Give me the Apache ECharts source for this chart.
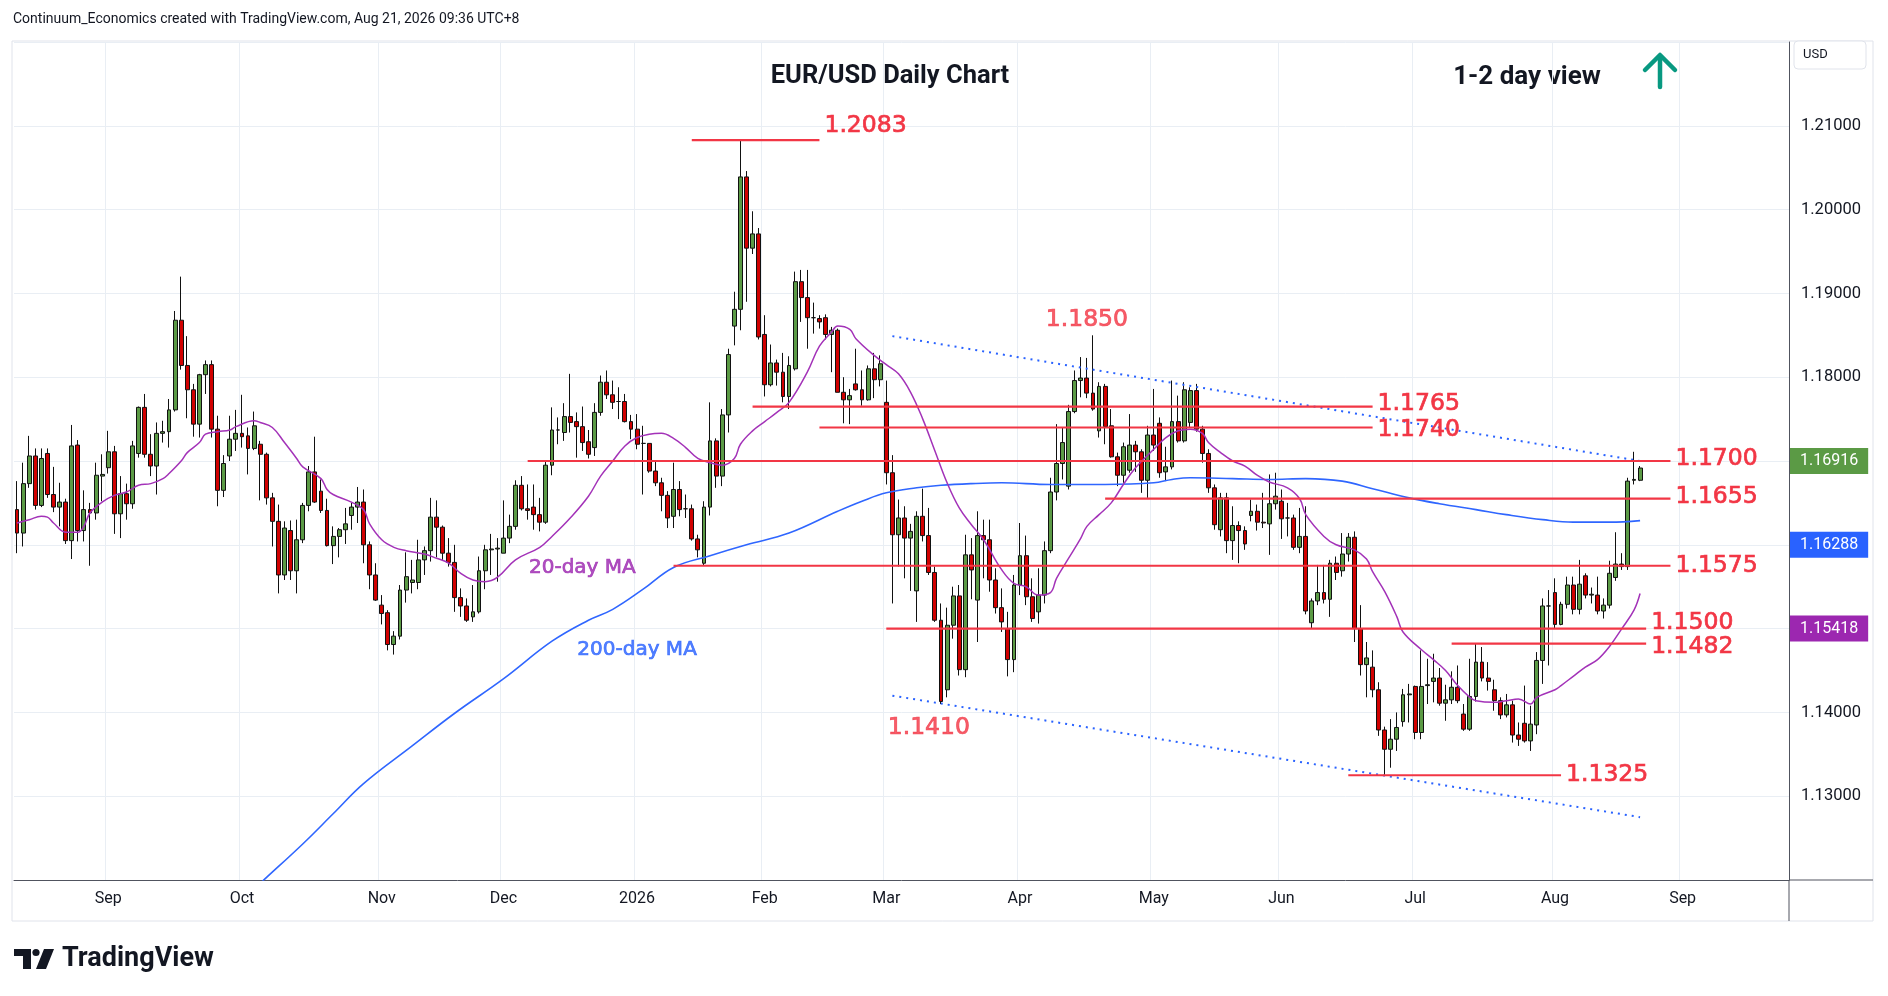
<!DOCTYPE html>
<html lang="en">
<head>
<meta charset="UTF-8">
<title>EUR/USD Daily Chart</title>
<script src="https://cdn.jsdelivr.net/npm/echarts@6/dist/echarts.min.js"></script>
<style>
  html, body { margin: 0; padding: 0; background: #fff; }
  #main { width: 1888px; height: 996px; }
</style>
</head>
<body>
<div id="main"></div>
<script>
// daily bars: date, open, high, low, close
var candles = [
  ['2025-08-11',1.1642,1.1676,1.1590,1.1614],['2025-08-12',1.1614,1.1698,1.1598,1.1673],
  ['2025-08-13',1.1673,1.1730,1.1668,1.1706],['2025-08-14',1.1706,1.1715,1.1642,1.1647],
  ['2025-08-15',1.1647,1.1715,1.1645,1.1703],['2025-08-18',1.1709,1.1715,1.1656,1.1660],
  ['2025-08-19',1.1660,1.1693,1.1639,1.1645],['2025-08-20',1.1645,1.1674,1.1622,1.1651],
  ['2025-08-21',1.1651,1.1655,1.1601,1.1605],['2025-08-22',1.1605,1.1743,1.1583,1.1718],
  ['2025-08-25',1.1719,1.1725,1.1604,1.1617],['2025-08-26',1.1617,1.1665,1.1604,1.1642],
  ['2025-08-27',1.1642,1.1650,1.1575,1.1638],['2025-08-28',1.1638,1.1698,1.1630,1.1683],
  ['2025-08-29',1.1682,1.1708,1.1652,1.1684],
  ['2025-09-01',1.1692,1.1736,1.1685,1.1711],['2025-09-02',1.1711,1.1718,1.1613,1.1637],
  ['2025-09-03',1.1637,1.1682,1.1608,1.1661],['2025-09-04',1.1661,1.1673,1.1630,1.1649],
  ['2025-09-05',1.1649,1.1724,1.1643,1.1718],['2025-09-08',1.1709,1.1765,1.1704,1.1764],
  ['2025-09-09',1.1764,1.1780,1.1704,1.1708],['2025-09-10',1.1708,1.1732,1.1682,1.1694],
  ['2025-09-11',1.1694,1.1746,1.1660,1.1733],['2025-09-12',1.1733,1.1748,1.1722,1.1735],
  ['2025-09-15',1.1735,1.1774,1.1716,1.1761],['2025-09-16',1.1761,1.1879,1.1759,1.1868],
  ['2025-09-17',1.1868,1.1920,1.1809,1.1814],['2025-09-18',1.1814,1.1849,1.1751,1.1785],
  ['2025-09-19',1.1785,1.1792,1.1729,1.1744],['2025-09-22',1.1744,1.1804,1.1728,1.1803],
  ['2025-09-23',1.1803,1.1820,1.1780,1.1815],['2025-09-24',1.1815,1.1820,1.1728,1.1738],
  ['2025-09-25',1.1738,1.1754,1.1646,1.1665],['2025-09-26',1.1665,1.1707,1.1657,1.1697],
  ['2025-09-29',1.1706,1.1754,1.1700,1.1726],['2025-09-30',1.1726,1.1761,1.1712,1.1733],
  ['2025-10-01',1.1733,1.1779,1.1716,1.1729],['2025-10-02',1.1730,1.1740,1.1684,1.1715],
  ['2025-10-03',1.1715,1.1759,1.1713,1.1742],['2025-10-06',1.1720,1.1724,1.1653,1.1708],
  ['2025-10-07',1.1708,1.1710,1.1648,1.1656],['2025-10-08',1.1656,1.1662,1.1598,1.1628],
  ['2025-10-09',1.1628,1.1648,1.1542,1.1564],['2025-10-10',1.1564,1.1628,1.1558,1.1620],
  ['2025-10-13',1.1617,1.1629,1.1558,1.1569],['2025-10-14',1.1569,1.1630,1.1542,1.1606],
  ['2025-10-15',1.1606,1.1650,1.1602,1.1647],['2025-10-16',1.1647,1.1694,1.1640,1.1687],
  ['2025-10-17',1.1687,1.1729,1.1650,1.1651],['2025-10-20',1.1664,1.1678,1.1638,1.1641],
  ['2025-10-21',1.1641,1.1655,1.1598,1.1599],['2025-10-22',1.1599,1.1622,1.1577,1.1610],
  ['2025-10-23',1.1610,1.1620,1.1585,1.1618],['2025-10-24',1.1618,1.1644,1.1601,1.1625],
  ['2025-10-27',1.1635,1.1650,1.1618,1.1645],['2025-10-28',1.1645,1.1669,1.1626,1.1651],
  ['2025-10-29',1.1651,1.1666,1.1578,1.1600],['2025-10-30',1.1600,1.1604,1.1547,1.1564],
  ['2025-10-31',1.1564,1.1578,1.1533,1.1534],
  ['2025-11-03',1.1528,1.1540,1.1505,1.1518],['2025-11-04',1.1519,1.1522,1.1474,1.1481],
  ['2025-11-05',1.1481,1.1497,1.1469,1.1491],['2025-11-06',1.1491,1.1552,1.1487,1.1546],
  ['2025-11-07',1.1546,1.1591,1.1531,1.1562],['2025-11-10',1.1555,1.1582,1.1542,1.1558],
  ['2025-11-11',1.1555,1.1606,1.1547,1.1582],['2025-11-12',1.1582,1.1598,1.1564,1.1593],
  ['2025-11-13',1.1593,1.1656,1.1580,1.1633],['2025-11-14',1.1633,1.1653,1.1585,1.1621],
  ['2025-11-17',1.1621,1.1623,1.1582,1.1590],['2025-11-18',1.1590,1.1608,1.1574,1.1579],
  ['2025-11-19',1.1579,1.1600,1.1520,1.1537],['2025-11-20',1.1537,1.1548,1.1514,1.1527],
  ['2025-11-21',1.1527,1.1536,1.1508,1.1510],['2025-11-24',1.1514,1.1552,1.1508,1.1520],
  ['2025-11-25',1.1520,1.1586,1.1518,1.1569],['2025-11-26',1.1569,1.1600,1.1547,1.1594],
  ['2025-11-27',1.1594,1.1613,1.1564,1.1595],['2025-11-28',1.1595,1.1608,1.1556,1.1596],
  ['2025-12-01',1.1590,1.1653,1.1590,1.1608],['2025-12-02',1.1608,1.1636,1.1602,1.1622],
  ['2025-12-03',1.1622,1.1677,1.1618,1.1671],['2025-12-04',1.1671,1.1682,1.1641,1.1643],
  ['2025-12-05',1.1643,1.1672,1.1630,1.1641],['2025-12-08',1.1645,1.1672,1.1618,1.1636],
  ['2025-12-09',1.1636,1.1656,1.1616,1.1627],['2025-12-10',1.1627,1.1700,1.1625,1.1695],
  ['2025-12-11',1.1695,1.1764,1.1683,1.1737],['2025-12-12',1.1737,1.1752,1.1720,1.1737],
  ['2025-12-15',1.1734,1.1769,1.1724,1.1753],['2025-12-16',1.1753,1.1804,1.1734,1.1746],
  ['2025-12-17',1.1747,1.1758,1.1704,1.1741],['2025-12-18',1.1741,1.1765,1.1712,1.1722],
  ['2025-12-19',1.1723,1.1737,1.1703,1.1708],['2025-12-22',1.1716,1.1769,1.1706,1.1758],
  ['2025-12-23',1.1758,1.1802,1.1754,1.1794],['2025-12-24',1.1794,1.1808,1.1774,1.1779],
  ['2025-12-26',1.1779,1.1796,1.1762,1.1770],['2025-12-29',1.1771,1.1788,1.1750,1.1771],
  ['2025-12-30',1.1771,1.1780,1.1746,1.1747],['2025-12-31',1.1747,1.1755,1.1726,1.1738],
  ['2026-01-02',1.1738,1.1756,1.1714,1.1720],['2026-01-05',1.1721,1.1742,1.1660,1.1721],
  ['2026-01-06',1.1721,1.1721,1.1686,1.1688],['2026-01-07',1.1688,1.1700,1.1670,1.1674],
  ['2026-01-08',1.1674,1.1680,1.1640,1.1659],['2026-01-09',1.1659,1.1664,1.1620,1.1632],
  ['2026-01-12',1.1634,1.1698,1.1620,1.1666],['2026-01-13',1.1666,1.1676,1.1634,1.1642],
  ['2026-01-14',1.1643,1.1660,1.1632,1.1643],['2026-01-15',1.1643,1.1648,1.1605,1.1607],
  ['2026-01-16',1.1607,1.1612,1.1585,1.1594],['2026-01-19',1.1578,1.1652,1.1575,1.1645],
  ['2026-01-20',1.1645,1.1770,1.1635,1.1724],['2026-01-21',1.1724,1.1727,1.1668,1.1682],
  ['2026-01-22',1.1682,1.1762,1.1670,1.1755],['2026-01-23',1.1755,1.1834,1.1734,1.1827],
  ['2026-01-26',1.1861,1.1902,1.1838,1.1881],['2026-01-27',1.1881,1.2083,1.1856,1.2039],
  ['2026-01-28',1.2039,1.2046,1.1890,1.1954],['2026-01-29',1.1954,1.1998,1.1947,1.1971],
  ['2026-01-30',1.1971,1.1978,1.1845,1.1848],
  ['2026-02-02',1.1851,1.1874,1.1777,1.1791],['2026-02-03',1.1791,1.1839,1.1789,1.1817],
  ['2026-02-04',1.1817,1.1821,1.1790,1.1806],['2026-02-05',1.1806,1.1829,1.1770,1.1777],
  ['2026-02-06',1.1777,1.1825,1.1762,1.1814],['2026-02-09',1.1810,1.1926,1.1808,1.1914],
  ['2026-02-10',1.1914,1.1928,1.1866,1.1895],['2026-02-11',1.1895,1.1928,1.1834,1.1871],
  ['2026-02-12',1.1871,1.1889,1.1852,1.1871],['2026-02-13',1.1870,1.1874,1.1858,1.1866],
  ['2026-02-16',1.1871,1.1875,1.1845,1.1851],['2026-02-17',1.1851,1.1860,1.1806,1.1856],
  ['2026-02-18',1.1856,1.1858,1.1782,1.1782],['2026-02-19',1.1782,1.1800,1.1745,1.1773],
  ['2026-02-20',1.1773,1.1786,1.1744,1.1778],['2026-02-23',1.1792,1.1834,1.1784,1.1785],
  ['2026-02-24',1.1785,1.1808,1.1766,1.1773],['2026-02-25',1.1773,1.1814,1.1772,1.1810],
  ['2026-02-26',1.1810,1.1829,1.1775,1.1797],['2026-02-27',1.1797,1.1826,1.1789,1.1816],
  ['2026-03-02',1.1770,1.1796,1.1672,1.1686],['2026-03-03',1.1686,1.1707,1.1530,1.1612],
  ['2026-03-04',1.1612,1.1654,1.1574,1.1632],['2026-03-05',1.1632,1.1646,1.1560,1.1608],
  ['2026-03-06',1.1608,1.1625,1.1545,1.1616],['2026-03-09',1.1545,1.1640,1.1508,1.1634],
  ['2026-03-10',1.1634,1.1667,1.1604,1.1611],['2026-03-11',1.1611,1.1644,1.1564,1.1567],
  ['2026-03-12',1.1567,1.1574,1.1508,1.1510],['2026-03-13',1.1510,1.1530,1.1410,1.1413],
  ['2026-03-16',1.1427,1.1525,1.1418,1.1504],['2026-03-17',1.1504,1.1550,1.1488,1.1539],
  ['2026-03-18',1.1539,1.1552,1.1444,1.1451],['2026-03-19',1.1451,1.1612,1.1442,1.1588],
  ['2026-03-20',1.1588,1.1608,1.1535,1.1570],['2026-03-23',1.1534,1.1640,1.1484,1.1611],
  ['2026-03-24',1.1611,1.1630,1.1560,1.1606],['2026-03-25',1.1606,1.1630,1.1544,1.1558],
  ['2026-03-26',1.1558,1.1572,1.1518,1.1525],['2026-03-27',1.1525,1.1548,1.1496,1.1508],
  ['2026-03-30',1.1500,1.1520,1.1443,1.1463],['2026-03-31',1.1463,1.1564,1.1448,1.1552],
  ['2026-04-01',1.1552,1.1626,1.1540,1.1587],['2026-04-02',1.1587,1.1611,1.1528,1.1538],
  ['2026-04-03',1.1538,1.1560,1.1508,1.1512],['2026-04-06',1.1520,1.1572,1.1506,1.1540],
  ['2026-04-07',1.1540,1.1604,1.1530,1.1593],['2026-04-08',1.1593,1.1680,1.1590,1.1663],
  ['2026-04-09',1.1663,1.1744,1.1653,1.1697],['2026-04-10',1.1697,1.1740,1.1678,1.1722],
  ['2026-04-13',1.1670,1.1767,1.1666,1.1759],['2026-04-14',1.1759,1.1808,1.1757,1.1796],
  ['2026-04-15',1.1796,1.1824,1.1776,1.1799],['2026-04-16',1.1799,1.1823,1.1775,1.1781],
  ['2026-04-17',1.1781,1.1850,1.1760,1.1762],['2026-04-20',1.1736,1.1794,1.1728,1.1789],
  ['2026-04-21',1.1789,1.1792,1.1720,1.1741],['2026-04-22',1.1742,1.1762,1.1704,1.1705],
  ['2026-04-23',1.1705,1.1710,1.1670,1.1683],['2026-04-24',1.1683,1.1722,1.1674,1.1717],
  ['2026-04-27',1.1689,1.1756,1.1686,1.1719],['2026-04-28',1.1719,1.1724,1.1687,1.1711],
  ['2026-04-29',1.1711,1.1714,1.1662,1.1677],['2026-04-30',1.1677,1.1742,1.1656,1.1731],
  ['2026-05-01',1.1731,1.1786,1.1712,1.1719],['2026-05-04',1.1745,1.1752,1.1680,1.1686],
  ['2026-05-05',1.1687,1.1717,1.1676,1.1693],['2026-05-06',1.1693,1.1796,1.1690,1.1747],
  ['2026-05-07',1.1747,1.1778,1.1722,1.1724],['2026-05-08',1.1724,1.1794,1.1722,1.1785],
  ['2026-05-11',1.1746,1.1788,1.1740,1.1784],['2026-05-12',1.1784,1.1792,1.1735,1.1738],
  ['2026-05-13',1.1738,1.1742,1.1698,1.1709],['2026-05-14',1.1709,1.1714,1.1662,1.1668],
  ['2026-05-15',1.1668,1.1672,1.1618,1.1624],['2026-05-18',1.1618,1.1662,1.1610,1.1656],
  ['2026-05-19',1.1656,1.1662,1.1590,1.1605],['2026-05-20',1.1605,1.1646,1.1582,1.1623],
  ['2026-05-21',1.1623,1.1628,1.1578,1.1617],['2026-05-22',1.1617,1.1622,1.1594,1.1601],
  ['2026-05-25',1.1635,1.1654,1.1628,1.1640],['2026-05-26',1.1640,1.1648,1.1617,1.1627],
  ['2026-05-27',1.1627,1.1662,1.1620,1.1626],['2026-05-28',1.1625,1.1684,1.1588,1.1649],
  ['2026-05-29',1.1649,1.1686,1.1642,1.1658],
  ['2026-06-01',1.1652,1.1666,1.1607,1.1631],['2026-06-02',1.1632,1.1650,1.1610,1.1632],
  ['2026-06-03',1.1632,1.1636,1.1594,1.1597],['2026-06-04',1.1597,1.1644,1.1590,1.1610],
  ['2026-06-05',1.1610,1.1646,1.1517,1.1521],['2026-06-08',1.1507,1.1536,1.1500,1.1533],
  ['2026-06-09',1.1533,1.1576,1.1528,1.1543],['2026-06-10',1.1543,1.1576,1.1530,1.1535],
  ['2026-06-11',1.1535,1.1582,1.1514,1.1578],['2026-06-12',1.1578,1.1586,1.1558,1.1567],
  ['2026-06-15',1.1569,1.1614,1.1562,1.1589],['2026-06-16',1.1589,1.1614,1.1580,1.1609],
  ['2026-06-17',1.1609,1.1616,1.1484,1.1500],['2026-06-18',1.1500,1.1528,1.1444,1.1457],
  ['2026-06-19',1.1457,1.1484,1.1418,1.1465],['2026-06-22',1.1454,1.1474,1.1418,1.1427],
  ['2026-06-23',1.1427,1.1436,1.1372,1.1379],['2026-06-24',1.1379,1.1383,1.1325,1.1356],
  ['2026-06-25',1.1356,1.1392,1.1334,1.1368],['2026-06-26',1.1368,1.1400,1.1354,1.1382],
  ['2026-06-29',1.1389,1.1428,1.1383,1.1421],['2026-06-30',1.1421,1.1434,1.1388,1.1422],
  ['2026-07-01',1.1431,1.1432,1.1368,1.1376],['2026-07-02',1.1376,1.1474,1.1368,1.1431],
  ['2026-07-03',1.1432,1.1464,1.1410,1.1433],['2026-07-06',1.1437,1.1470,1.1412,1.1441],
  ['2026-07-07',1.1441,1.1453,1.1408,1.1411],['2026-07-08',1.1411,1.1433,1.1390,1.1415],
  ['2026-07-09',1.1415,1.1449,1.1410,1.1430],['2026-07-10',1.1430,1.1456,1.1411,1.1414],
  ['2026-07-13',1.1398,1.1410,1.1378,1.1380],['2026-07-14',1.1380,1.1464,1.1378,1.1419],
  ['2026-07-15',1.1419,1.1482,1.1413,1.1460],['2026-07-16',1.1460,1.1478,1.1437,1.1441],
  ['2026-07-17',1.1441,1.1460,1.1426,1.1437],['2026-07-20',1.1427,1.1439,1.1402,1.1414],
  ['2026-07-21',1.1414,1.1418,1.1392,1.1397],['2026-07-22',1.1397,1.1422,1.1394,1.1409],
  ['2026-07-23',1.1409,1.1414,1.1364,1.1373],['2026-07-24',1.1373,1.1388,1.1360,1.1368],
  ['2026-07-27',1.1387,1.1432,1.1364,1.1366],['2026-07-28',1.1366,1.1408,1.1354,1.1386],
  ['2026-07-29',1.1385,1.1472,1.1374,1.1462],['2026-07-30',1.1462,1.1536,1.1434,1.1527],
  ['2026-07-31',1.1527,1.1546,1.1456,1.1527],
  ['2026-08-03',1.1543,1.1560,1.1500,1.1505],['2026-08-04',1.1505,1.1532,1.1504,1.1529],
  ['2026-08-05',1.1529,1.1562,1.1524,1.1552],['2026-08-06',1.1552,1.1562,1.1517,1.1523],
  ['2026-08-07',1.1523,1.1582,1.1517,1.1553],['2026-08-10',1.1563,1.1566,1.1536,1.1540],
  ['2026-08-11',1.1540,1.1549,1.1530,1.1541],['2026-08-12',1.1540,1.1562,1.1517,1.1521],
  ['2026-08-13',1.1521,1.1536,1.1512,1.1528],['2026-08-14',1.1528,1.1581,1.1524,1.1566],
  ['2026-08-17',1.1561,1.1615,1.1557,1.1577],['2026-08-18',1.1577,1.1590,1.1570,1.1574],
  ['2026-08-19',1.1574,1.1680,1.1570,1.1676],['2026-08-20',1.1677,1.1711,1.1672,1.1678],
  ['2026-08-21',1.1677,1.1694,1.1676,1.16916]
];

// empty days on the right of the last bar
var futureDays = ['2026-08-24','2026-08-25','2026-08-26','2026-08-27','2026-08-28',
  '2026-08-31','2026-09-01','2026-09-02','2026-09-03','2026-09-04',
  '2026-09-07','2026-09-08','2026-09-09','2026-09-10','2026-09-11',
  '2026-09-14','2026-09-15','2026-09-16','2026-09-17','2026-09-18',
  '2026-09-21','2026-09-22','2026-09-23','2026-09-24'];

// moving averages: [bar index, value]
var ma20Pts = [[0,1.1626],[2,1.1630],[4,1.1634],[5,1.1633],[6,1.1626],[8,1.1615],[10,1.1615],
  [11,1.1622],[12,1.1638],[14,1.1651],[16,1.1659],[18,1.1663],[20,1.1671],[22,1.1673],[24,1.1679],
  [25,1.1685],[27,1.1700],[28,1.1710],[30,1.1722],[31,1.1732],[33,1.1735],[35,1.1737],[36,1.1741],
  [39,1.1748],[40,1.1746],[42,1.1740],[44,1.1722],[46,1.1703],[47,1.1693],[50,1.1679],[51,1.1666],
  [52,1.1660],[55,1.1651],[57,1.1642],[58,1.1625],[60,1.1606],[62,1.1597],[64,1.1593],[67,1.1589],
  [69,1.1584],[71,1.1578],[73,1.1566],[75,1.1558],[77,1.1556],[79,1.1561],[82,1.1582],[86,1.1597],
  [88,1.1610],[91,1.1632],[94,1.1658],[96,1.1682],[98,1.1700],[100,1.1718],[102,1.1728],[104,1.1732],
  [106,1.1733],[108,1.1727],[110,1.1716],[112,1.1703],[114,1.1698],[116,1.1695],[118,1.1703],
  [119,1.1720],[121,1.1736],[123,1.1747],[125,1.1758],[127,1.1770],[130,1.1806],[132,1.1837],
  [134,1.1854],[135,1.1861],[137,1.1857],[138,1.1846],[141,1.1826],[143,1.1815],[145,1.1804],
  [147,1.1782],[149,1.1750],[151,1.1712],[153,1.1674],[155,1.1644],[157,1.1624],[159,1.1606],
  [162,1.1570],[164,1.1554],[166,1.1550],[168,1.1540],[170,1.1543],[171,1.1560],[173,1.1584],
  [175,1.1608],[176,1.1622],[178,1.1636],[180,1.1650],[182,1.1672],[184,1.1692],[187,1.1714],
  [189,1.1728],[191,1.1736],[193,1.1738],[195,1.1733],[196,1.1722],[198,1.1710],[200,1.1700],
  [202,1.1694],[204,1.1683],[206,1.1675],[209,1.1668],[211,1.1655],[212,1.1636],[215,1.1610],
  [217,1.1600],[220,1.1594],[222,1.1583],[223,1.1568],[225,1.1544],[227,1.1514],[228,1.1496],
  [231,1.1475],[233,1.1463],[235,1.1450],[237,1.1432],[239,1.1418],[240,1.1414],[243,1.1412],
  [245,1.1414],[247,1.1416],[249,1.1410],[250,1.1418],[253,1.1427],[254,1.1432],[256,1.1443],
  [258,1.1454],[260,1.1463],[262,1.1479],[264,1.1500],[266,1.1522],[267,1.15418]];

var ma200Pts = [[38,1.1182],[40,1.1196],[47,1.1243],[52,1.1279],[57,1.1315],[65,1.1360],
  [72,1.1399],[80,1.1440],[88,1.1485],[94,1.1510],[98,1.1523],[103,1.1547],[108,1.1573],
  [114,1.1587],[120,1.1600],[127,1.1614],[135,1.1640],[139,1.1652],[143,1.1662],[148,1.1668],
  [152,1.1671],[157,1.1673],[162,1.1674],[170,1.1672],[179,1.1672],[187,1.1674],[190,1.1678],
  [193,1.1680],[200,1.1679],[206,1.1678],[212,1.1679],[218,1.1676],[223,1.1667],[229,1.1656],
  [234,1.1649],[240,1.1642],[245,1.1636],[251,1.1630],[256,1.1627],[262,1.1627],[267,1.16288]];

// support / resistance levels
var levelValues = [1.2083, 1.1765, 1.1740, 1.1700, 1.1655, 1.1575, 1.1500, 1.1482, 1.1325];
var levelFrom = ['2026-01-15','2026-01-29','2026-02-13','2025-12-05','2026-04-21',
  '2026-01-12','2026-03-02','2026-07-09','2026-06-16'];
var levelTo = ['2026-02-13','2026-06-22','2026-06-22','2026-08-28','2026-08-28',
  '2026-08-28','2026-08-24','2026-08-24','2026-08-04'];

// channel lines
var trendUpper = [['2026-03-03', 1.1849], ['2026-08-21', 1.1700]];
var trendLower = [['2026-03-03', 1.1420], ['2026-08-21', 1.1275]];

// free-standing notes: date, price, text
var notes = [
  ['2026-04-16', 1.1868, '1.1850'],
  ['2026-03-11', 1.1381, '1.1410'],
  ['2025-12-18', 1.1572, '20-day MA'],
  ['2026-01-02', 1.1475, '200-day MA']
];

var FONT = 'Roboto, "Liberation Sans", Arial, sans-serif';
var NOTE_FONT = '"DejaVu Sans", Verdana, sans-serif';
var RED = '#f23645';
var TEXT = '#131722';
var GRIDC = '#e9eef4';
var NONE = 'rgba(0,0,0,0)';

var days = candles.map(function (c) { return c[0]; }).concat(futureDays);
var ohlc = candles.map(function (c) { return [c[1], c[4], c[3], c[2]]; });
var monthNames = ['Jan','Feb','Mar','Apr','May','Jun','Jul','Aug','Sep','Oct','Nov','Dec'];
function monthStart(i) {
  return i > 0 && days[i].slice(5, 7) !== days[i - 1].slice(5, 7);
}

// label nudges so stacked labels do not collide (pixels)
var levelNudge = { '1.2083': -14, '1.1765': -3, '1.1740': 2, '1.1700': -2, '1.1655': -2,
  '1.1500': -6, '1.1482': 3 };

// price tag on the right scale
function tag(value, bg) {
  return {
    silent: true, symbol: ['none', 'none'],
    lineStyle: { color: NONE, width: 0 },
    data: [{ yAxis: value }],
    label: {
      show: true, position: 'end', distance: 1, formatter: value.toFixed(5),
      backgroundColor: bg, color: '#fff', fontFamily: FONT, fontSize: 16,
      lineHeight: 16, padding: [5, 10]
    }
  };
}

var lastClose = candles[candles.length - 1][4];
var series = [];

series.push({
  type: 'candlestick',
  name: 'EURUSD',
  data: ohlc,
  barWidth: '72%',
  itemStyle: {
    color: '#5b9a45', color0: '#d10000',
    borderColor: '#111', borderColor0: '#111', borderWidth: 1
  },
  markLine: tag(lastClose, '#5b9a45'),
  z: 2
});

series.push({
  type: 'line', name: 'MA200', data: ma200Pts, smooth: 0.4, showSymbol: false,
  lineStyle: { color: '#2f66ff', width: 1.6 }, z: 3,
  markLine: tag(ma200Pts[ma200Pts.length - 1][1], '#2962ff')
});

series.push({
  type: 'line', name: 'MA20', data: ma20Pts, smooth: 0.4, showSymbol: false,
  lineStyle: { color: '#a332b8', width: 1.5 }, z: 3,
  markLine: tag(ma20Pts[ma20Pts.length - 1][1], '#9c27b0')
});

[trendUpper, trendLower].forEach(function (t) {
  series.push({
    type: 'line', data: t, showSymbol: false, silent: true,
    lineStyle: { color: '#2962ff', width: 2, type: [2, 5] }, z: 4
  });
});

levelValues.forEach(function (v, i) {
  var txt = v.toFixed(4);
  series.push({
    type: 'line', silent: true, showSymbol: false,
    data: [[levelFrom[i], v], [levelTo[i], v]],
    lineStyle: { color: RED, width: 2.2 }, z: 5,
    endLabel: {
      show: true, formatter: txt, color: RED, fontFamily: NOTE_FONT, fontSize: 23.5,
      textBorderColor: RED, textBorderWidth: 0.7,
      distance: 5, offset: [0, levelNudge[txt] || 0]
    }
  });
});

series.push({
  type: 'scatter', silent: true, symbolSize: 2, itemStyle: { color: NONE }, z: 6,
  data: notes.map(function (n) {
    var col = n[2] === '20-day MA' ? '#9c27b0' : (n[2] === '200-day MA' ? '#2962ff' : RED);
    var isMa = n[2].indexOf('MA') > 0;
    return {
      value: [n[0], n[1]],
      label: { show: true, position: 'inside', formatter: n[2], color: col,
        fontFamily: NOTE_FONT, fontSize: isMa ? 20 : 23.5,
        textBorderColor: col, textBorderWidth: 0.7 }
    };
  })
});

var chart = echarts.init(document.getElementById('main'));
chart.setOption({
  animation: false,
  backgroundColor: '#fff',
  grid: { left: 14, right: 99, top: 42, bottom: 116, containLabel: false },
  xAxis: {
    type: 'category', data: days, boundaryGap: true,
    axisLine: { lineStyle: { color: '#50535e', width: 1 } },
    axisTick: { show: false },
    axisLabel: {
      interval: function (i) { return monthStart(i); },
      formatter: function (val) {
        var m = +val.slice(5, 7);
        return m === 1 ? val.slice(0, 4) : monthNames[m - 1];
      },
      color: TEXT, fontFamily: FONT, fontSize: 16, margin: 11
    },
    splitLine: {
      show: true, interval: function (i) { return monthStart(i); },
      lineStyle: { color: GRIDC, width: 1 }
    }
  },
  yAxis: {
    type: 'value', position: 'right', min: 1.12, max: 1.22, interval: 0.01, scale: true,
    axisLine: { show: true, lineStyle: { color: '#50535e', width: 1 } },
    axisTick: { show: false },
    axisLabel: {
      formatter: function (v) { return v.toFixed(5); },
      showMinLabel: false, showMaxLabel: false,
      color: TEXT, fontFamily: FONT, fontSize: 16.5, margin: 12
    },
    splitLine: { show: true, lineStyle: { color: GRIDC, width: 1 } }
  },
  series: series,
  graphic: [
    { type: 'rect', shape: { x: 12, y: 41, width: 1861, height: 880 },
      style: { fill: 'none', stroke: '#e0e3eb', lineWidth: 1 }, z: -1 },
    { type: 'line', shape: { x1: 1789, y1: 880, x2: 1873, y2: 880 },
      style: { stroke: '#50535e', lineWidth: 1 } },
    { type: 'line', shape: { x1: 1789, y1: 880, x2: 1789, y2: 921 },
      style: { stroke: '#50535e', lineWidth: 1 } },
    { type: 'text', x: 13, y: 19,
      style: { text: 'Continuum_Economics created with TradingView.com, Aug 21, 2026 09:36 UTC+8',
        fill: TEXT, font: '14px ' + FONT, verticalAlign: 'middle' } },
    { type: 'text', x: 890, y: 77,
      style: { text: 'EUR/USD Daily Chart', fill: TEXT, font: 'bold 25.5px ' + FONT,
        align: 'center', verticalAlign: 'middle' } },
    { type: 'text', x: 1527, y: 77,
      style: { text: '1-2 day view', fill: TEXT, font: 'bold 26px ' + FONT,
        align: 'center', verticalAlign: 'middle' } },
    { type: 'line', shape: { x1: 1660, y1: 87, x2: 1660, y2: 56 },
      style: { stroke: '#089981', lineWidth: 4.5, lineCap: 'round' } },
    { type: 'polyline', shape: { points: [[1645, 70], [1660, 55], [1675, 70]] },
      style: { stroke: '#089981', lineWidth: 4.5, lineCap: 'round', lineJoin: 'round', fill: 'none' } },
    { type: 'rect', shape: { x: 1794, y: 41, width: 72, height: 28, r: 4 },
      style: { fill: '#fff', stroke: '#e0e3eb', lineWidth: 1 } },
    { type: 'text', x: 1803, y: 55,
      style: { text: 'USD', fill: TEXT, font: '13px ' + FONT, verticalAlign: 'middle' } },
    { type: 'polygon', shape: { points: [[14, 949], [31, 949], [31, 969], [23, 969], [23, 956], [14, 956]] },
      style: { fill: TEXT } },
    { type: 'circle', shape: { cx: 36, cy: 952.5, r: 3.6 }, style: { fill: TEXT } },
    { type: 'polygon', shape: { points: [[44, 949], [54, 949], [46, 969], [36, 969]] },
      style: { fill: TEXT } },
    { type: 'text', x: 62, y: 959,
      style: { text: 'TradingView', fill: TEXT, font: 'bold 27px ' + FONT, verticalAlign: 'middle' } }
  ]
});
</script>
</body>
</html>
